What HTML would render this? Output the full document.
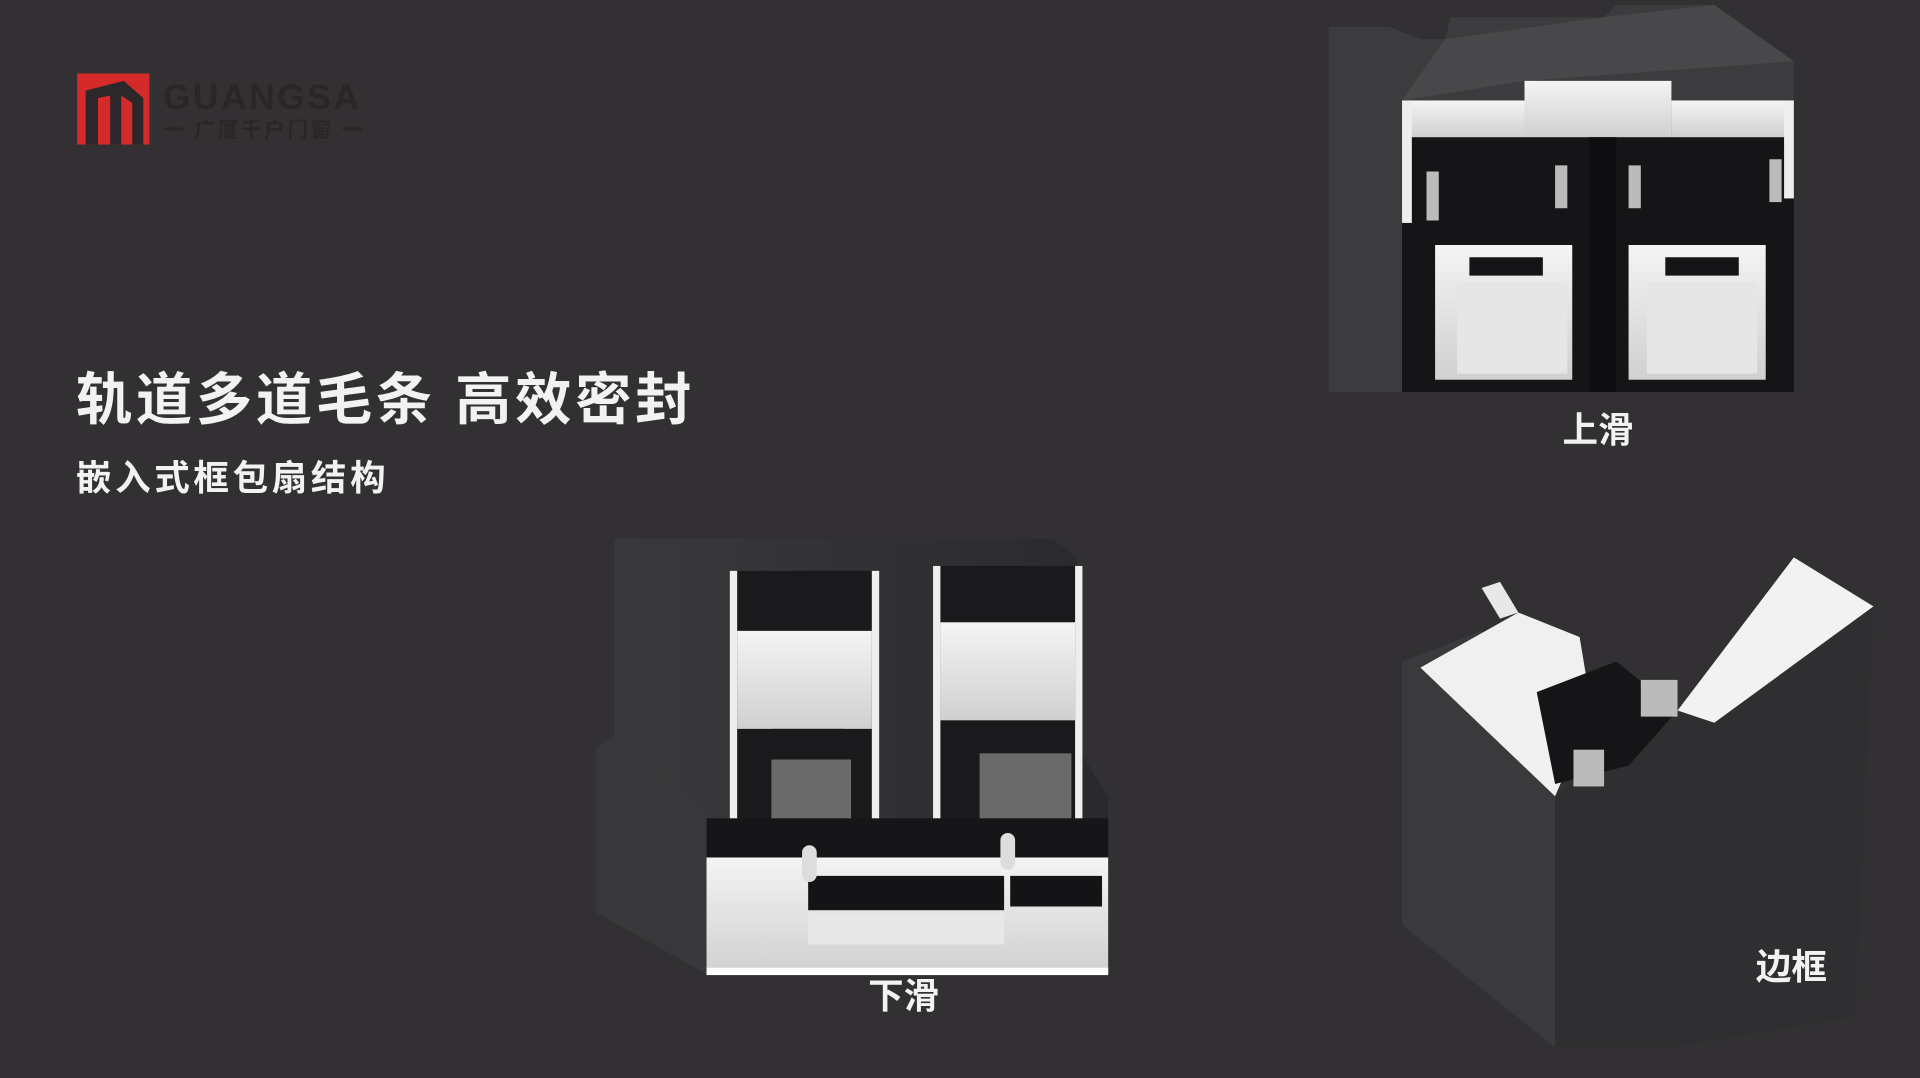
<!DOCTYPE html>
<html><head><meta charset="utf-8"><style>
html,body{margin:0;padding:0;background:#323032;width:1920px;height:1078px;overflow:hidden}
svg{display:block}
text{font-family:"Liberation Sans","Noto Sans CJK SC",sans-serif;font-weight:bold}
</style></head><body>
<svg width="1920" height="1078" viewBox="0 0 1568 880" preserveAspectRatio="none">
<defs>
<linearGradient id="w" x1="0" y1="0" x2="0" y2="1"><stop offset="0" stop-color="#f4f4f4"/><stop offset="1" stop-color="#d0d0d0"/></linearGradient>
<linearGradient id="d" x1="0" y1="0" x2="1" y2="0"><stop offset="0" stop-color="#3a3a3c"/><stop offset="1" stop-color="#2a2a2c"/></linearGradient>
</defs>
<rect width="1568" height="880" fill="#323032"/>
<!-- logo -->
<rect x="63" y="60" width="59" height="58" fill="#d42a2a"/>
<path d="M70 118 V74 L101 66 L117 80 V118 H108 V84 L99 78 V118 H90 V78 L80 80 V118Z" fill="#2c2728"/>
<text x="133" y="89" font-size="29" fill="#2a2526" letter-spacing="2">GUANGSA</text>
<text x="133" y="112" font-size="17" fill="#2a2526" letter-spacing="2">一 广厦千户门窗 一</text>
<!-- titles -->
<text x="62" y="342" font-size="46" fill="#f2f2f2" letter-spacing="3">轨道多道毛条 高效密封</text>
<text x="62" y="400" font-size="29" fill="#f2f2f2" letter-spacing="3">嵌入式框包扇结构</text>
<!-- top-right profile 上滑 -->
<polygon points="1085,22 1135,22 1160,32 1180,32 1185,14 1310,14 1320,4 1400,4 1465,50 1465,320 1085,320" fill="#3c3c3e"/>
<polygon points="1180,32 1310,14 1400,4 1465,50 1245,66 1145,82" fill="#48484a"/>
<rect x="1145" y="82" width="320" height="238" fill="#151517"/>
<rect x="1150" y="82" width="95" height="30" fill="url(#w)"/>
<rect x="1245" y="66" width="120" height="46" fill="url(#w)"/>
<rect x="1365" y="82" width="95" height="30" fill="url(#w)"/>
<rect x="1145" y="82" width="8" height="100" fill="#eee"/>
<rect x="1457" y="82" width="8" height="80" fill="#eee"/>
<rect x="1172" y="200" width="112" height="110" fill="url(#w)"/>
<rect x="1330" y="200" width="112" height="110" fill="url(#w)"/>
<rect x="1190" y="230" width="90" height="75" fill="#e6e6e6"/>
<rect x="1345" y="230" width="90" height="75" fill="#e6e6e6"/>
<polygon points="1200,210 1260,210 1260,225 1200,225" fill="#151517"/>
<polygon points="1360,210 1420,210 1420,225 1360,225" fill="#151517"/>
<rect x="1298" y="112" width="22" height="208" fill="#0e0e10"/>
<rect x="1165" y="140" width="10" height="40" fill="#bbb"/>
<rect x="1445" y="130" width="10" height="35" fill="#bbb"/>
<rect x="1270" y="135" width="10" height="35" fill="#bbb"/>
<rect x="1330" y="135" width="10" height="35" fill="#bbb"/>
<text x="1305" y="361" font-size="29" fill="#f2f2f2" text-anchor="middle">上滑</text>
<!-- bottom center 下滑 -->
<polygon points="502,440 617,440 720,440 860,440 880,455 880,610 905,650 905,770 577,795 487,745 487,610 502,600" fill="url(#d)"/>
<polygon points="487,610 502,600 577,662 577,795 487,745" fill="#38383a"/>
<rect x="596" y="466" width="122" height="220" fill="#1a1a1c"/>
<rect x="762" y="462" width="122" height="220" fill="#1a1a1c"/>
<rect x="596" y="466" width="6" height="220" fill="#eee"/>
<rect x="712" y="466" width="6" height="220" fill="#eee"/>
<rect x="762" y="462" width="6" height="220" fill="#eee"/>
<rect x="878" y="462" width="6" height="220" fill="#eee"/>
<rect x="602" y="515" width="110" height="80" fill="url(#w)"/>
<rect x="768" y="508" width="110" height="80" fill="url(#w)"/>
<polygon points="630,595 690,595 700,615 630,615" fill="#1a1a1c"/>
<polygon points="795,590 855,590 865,610 795,610" fill="#1a1a1c"/>
<rect x="630" y="620" width="65" height="60" fill="#6a6a6a"/>
<rect x="800" y="615" width="75" height="60" fill="#6a6a6a"/>
<rect x="577" y="668" width="328" height="40" fill="#161618"/>
<rect x="577" y="700" width="328" height="95" fill="url(#w)"/>
<rect x="660" y="715" width="160" height="28" fill="#141416"/>
<rect x="825" y="715" width="75" height="25" fill="#141416"/>
<rect x="660" y="745" width="160" height="26" fill="#e8e8e8"/>
<rect x="577" y="790" width="328" height="6" fill="#fff"/>
<rect x="655" y="690" width="12" height="30" rx="6" fill="#ddd"/>
<rect x="817" y="680" width="12" height="30" rx="6" fill="#ddd"/>
<text x="738" y="823" font-size="29" fill="#f2f2f2" text-anchor="middle">下滑</text>
<!-- bottom right 边框 -->
<polygon points="1145,540 1210,515 1270,650 1270,855 1145,755" fill="#3a3a3c"/>
<polygon points="1270,650 1370,580 1530,495 1515,830 1365,855 1270,855" fill="#2f2f31"/>
<polygon points="1160,545 1240,500 1290,520 1300,580 1270,650" fill="#f0f0f0"/>
<polygon points="1370,580 1465,455 1530,495 1400,590" fill="#f2f2f2"/>
<polygon points="1255,565 1320,540 1370,580 1330,625 1270,640" fill="#151517"/>
<rect x="1340" y="555" width="30" height="30" fill="#bbb"/>
<rect x="1285" y="612" width="25" height="30" fill="#bbb"/>
<polygon points="1210,480 1225,475 1240,500 1225,505" fill="#e8e8e8"/>
<text x="1463" y="799" font-size="29" fill="#f2f2f2" text-anchor="middle">边框</text>
</svg>
</body></html>
